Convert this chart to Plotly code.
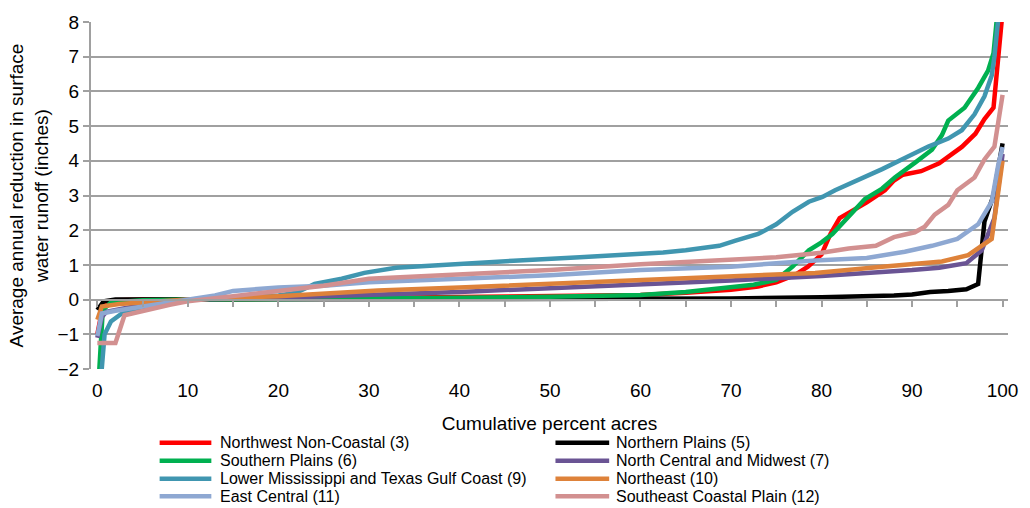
import plotly.graph_objects as go

# ---- data ----
names = [
    "Northwest Non-Coastal (3)",
    "Northern Plains (5)",
    "Southern Plains (6)",
    "North Central and Midwest (7)",
    "Lower Mississippi and Texas Gulf Coast (9)",
    "Northeast (10)",
    "East Central (11)",
    "Southeast Coastal Plain (12)",
]

nw_x = [0, 0.7, 2, 5, 10, 20, 30, 40, 50, 55, 60, 65, 70, 73, 75, 77, 78.5, 80, 81, 82, 83, 85, 87, 88, 89, 91, 93, 94, 95.5, 97, 98, 99, 100]
nw_y = [-1.0, -0.08, -0.02, 0, 0, 0.02, 0.04, 0.06, 0.08, 0.1, 0.13, 0.2, 0.28, 0.38, 0.5, 0.7, 0.95, 1.3, 1.9, 2.35, 2.5, 2.8, 3.15, 3.43, 3.6, 3.7, 3.93, 4.13, 4.4, 4.78, 5.2, 5.53, 8.3]

np_x = [0, 0.7, 2, 10, 30, 50, 60, 70, 80, 85, 88, 90, 92, 94, 96, 97.3, 98, 99, 100]
np_y = [-0.3, -0.05, 0, 0, 0.0, 0.01, 0.02, 0.03, 0.07, 0.09, 0.12, 0.15, 0.22, 0.25, 0.3, 0.45, 2.25, 3.0, 4.5]

sp_x = [0, 0.6, 1.5, 5, 10, 20, 30, 40, 50, 55, 60, 65, 67, 70, 72.5, 75, 76.8, 78.6, 80, 81.2, 83, 84.8, 86.7, 88.1, 90.3, 92.2, 93.3, 94, 95.8, 97.3, 98.4, 99, 100]
sp_y = [-3.0, -0.3, -0.08, -0.02, 0, 0.01, 0.02, 0.05, 0.08, 0.1, 0.13, 0.22, 0.28, 0.35, 0.43, 0.57, 0.95, 1.42, 1.65, 1.89, 2.4, 2.9, 3.2, 3.52, 3.94, 4.32, 4.74, 5.16, 5.53, 6.1, 6.6, 7.1, 9.8]

nc_x = [0, 0.5, 1, 3, 5, 8, 10, 20, 30, 40, 50, 60, 70, 80, 85, 90, 93, 96, 97.7, 99.1, 100]
nc_y = [-1.1, -0.5, -0.35, -0.25, -0.15, -0.05, 0, 0.05, 0.12, 0.22, 0.33, 0.43, 0.55, 0.68, 0.75, 0.85, 0.92, 1.05, 1.42, 2.35, 4.2]

lm_x = [0.3, 0.8, 1.5, 2.7, 5, 8, 10, 15, 20, 22, 24, 27, 29.5, 33, 38.7, 46, 53.3, 59.6, 62.5, 65, 68.7, 70.5, 73, 75, 76.8, 78.6, 80.1, 81.5, 82.3, 84.8, 86.7, 89.6, 91.8, 94, 95.5, 96.9, 98, 98.8, 99.1, 100]
lm_y = [-2.6, -1.0, -0.63, -0.4, -0.25, -0.08, 0, 0.05, 0.12, 0.2, 0.45, 0.6, 0.77, 0.92, 1.02, 1.12, 1.22, 1.3, 1.36, 1.42, 1.55, 1.7, 1.89, 2.17, 2.53, 2.82, 2.96, 3.15, 3.24, 3.52, 3.76, 4.13, 4.41, 4.64, 4.88, 5.34, 5.86, 6.46, 7.0, 9.3]

ne_x = [0, 0.5, 2.4, 5, 10, 20, 31, 40, 50, 60, 70, 79.3, 86.7, 93.3, 96.2, 98.8, 100]
ne_y = [-0.58, -0.2, -0.13, -0.08, 0, 0.1, 0.26, 0.35, 0.45, 0.56, 0.66, 0.77, 0.95, 1.1, 1.28, 1.75, 4.0]

ec_x = [0, 0.5, 2, 5, 8, 10, 13, 15, 17, 20, 25, 30, 40, 50, 60, 70, 79.3, 85, 89.2, 92.2, 95, 97.3, 98.8, 99.5, 100]
ec_y = [-1.05, -0.4, -0.32, -0.2, -0.08, -0.02, 0.12, 0.25, 0.3, 0.35, 0.4, 0.5, 0.6, 0.7, 0.85, 0.95, 1.13, 1.2, 1.38, 1.55, 1.75, 2.17, 2.82, 3.85, 4.4]

se_x = [0, 2, 3, 5, 8, 10, 12, 15, 20, 25, 30, 40, 50, 60, 70, 75, 80, 83, 86, 88, 90.3, 91.4, 92.5, 94, 95, 96.9, 98, 99.1, 100]
se_y = [-1.25, -1.25, -0.45, -0.32, -0.15, -0.05, 0, 0.1, 0.25, 0.4, 0.6, 0.72, 0.85, 1.02, 1.15, 1.22, 1.35, 1.47, 1.55, 1.8, 1.94, 2.1, 2.45, 2.73, 3.15, 3.52, 4.04, 4.41, 5.9]

xs = [nw_x, np_x, sp_x, nc_x, lm_x, ne_x, ec_x, se_x]
ys = [nw_y, np_y, sp_y, nc_y, lm_y, ne_y, ec_y, se_y]
colors = ["#FF0000", "#000000", "#00B050", "#6A5494",
          "#4096B0", "#DE823A", "#8EA8D2", "#D29090"]

x_ticks = [0, 10, 20, 30, 40, 50, 60, 70, 80, 90, 100]
y_ticks = [-2, -1, 0, 1, 2, 3, 4, 5, 6, 7, 8]

FONT = "Liberation Sans, Arial, sans-serif"
GRID = "#A0A0A0"

W, H = 1030, 508
ML, MR, MT, MB = 91, 17, 12, 139
PW, PH = W - ML - MR, H - MT - MB


def px_to_paper(px, py):
    return (px - ML) / PW, (H - MB - py) / PH


fig = go.Figure()
for n, x, y, c in zip(names, xs, ys, colors):
    fig.add_trace(go.Scatter(x=x, y=y, name=n, mode="lines",
                             line=dict(color=c, width=4.5)))

# helper trace so the zero-crossing x axis (with its tick marks) is drawn
fig.add_trace(go.Scatter(x=[0, 100], y=[0, 0], xaxis="x2", mode="lines",
                         line=dict(width=0), showlegend=False, hoverinfo="skip"))

# compact two-column legend (Excel style) built from names / colors
col_sample_x = [(160, 212), (558, 612)]
col_text_x = [219, 617]
row_y = [445, 463.5, 482, 500]
for i, (n, c) in enumerate(zip(names, colors)):
    r, k = divmod(i, 2)
    x0, yy = px_to_paper(col_sample_x[k][0], row_y[r])
    x1, _ = px_to_paper(col_sample_x[k][1], row_y[r])
    fig.add_shape(type="line", xref="paper", yref="paper", x0=x0, x1=x1, y0=yy, y1=yy,
                  line=dict(color=c, width=4.5))
    tx, _ = px_to_paper(col_text_x[k], row_y[r])
    fig.add_annotation(xref="paper", yref="paper", x=tx, y=yy, text=n, showarrow=False,
                       xanchor="left", yanchor="middle", font=dict(size=16, color="#000000"))

fig.update_layout(
    width=W, height=H,
    margin=dict(l=ML, r=MR, t=MT, b=MB),
    plot_bgcolor="white", paper_bgcolor="white",
    font=dict(family=FONT, color="#000000"),
    showlegend=False,
    xaxis=dict(range=[-0.7, 100.6], tickvals=x_ticks, ticks="", showgrid=False,
               showline=False, zeroline=False, tickfont=dict(size=19),
               ticklabelstandoff=8,
               title=dict(text="Cumulative percent acres", font=dict(size=19), standoff=16)),
    xaxis2=dict(range=[-0.7, 100.6], overlaying="x", anchor="free", position=0.2,
                side="bottom", showline=True, linecolor=GRID, linewidth=2,
                ticks="outside", ticklen=6, tickcolor=GRID, tickwidth=1.5, dtick=5, tick0=0,
                showticklabels=False, showgrid=False, zeroline=False),
    yaxis=dict(range=[-2, 8], tickvals=y_ticks, showgrid=True, gridcolor=GRID, gridwidth=2,
               showline=True, linecolor=GRID, linewidth=2, ticks="outside", ticklen=6,
               tickcolor=GRID, tickwidth=1.5, zeroline=False, tickfont=dict(size=19),
               title=dict(text="Average annual reduction in surface<br>water runoff (inches)",
                          font=dict(size=19), standoff=4)),
)

fig.write_html("out.html")
